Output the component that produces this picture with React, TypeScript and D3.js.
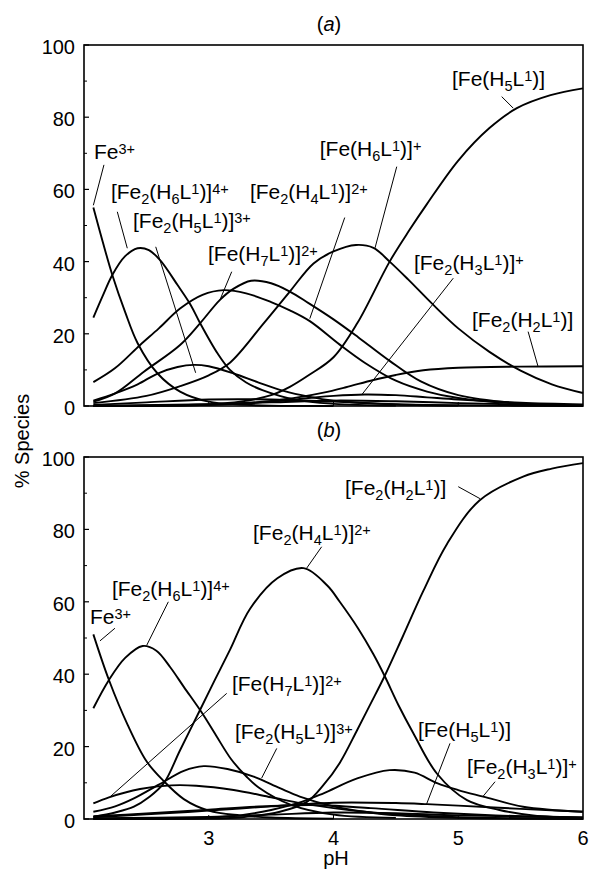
import React, { useEffect, useRef } from "react";
import * as d3 from "d3";

const W = 592;
const H = 871;
const FONT = "'Liberation Sans', Arial, Helvetica, sans-serif";

const pHDomain = [2, 6];
const xTickLabels = [3, 4, 5, 6];
const yTickLabels = [0, 20, 40, 60, 80, 100];
const yMinorTicks = [10, 30, 50, 70, 90];

// ---- panel (a): [pH, % species] ----
const aFe3 = [[2.075, 55], [2.15, 45.5], [2.227, 36.3], [2.33, 26], [2.43, 17.4], [2.59, 9], [2.77, 4], [3.0, 1.2], [3.25, 0.4], [3.5, 0.1], [4, 0]];
const aFe2H6 = [[2.075, 24.5], [2.15, 30.5], [2.227, 36.3], [2.33, 41.5], [2.43, 43.7], [2.52, 43.2], [2.61, 40.4], [2.75, 33.5], [2.855, 28], [2.93, 23], [3.07, 14.6], [3.17, 10], [3.3, 6.5], [3.43, 4.4], [3.7, 1.7], [4, 0.6], [4.5, 0.1]];
const aFe2H5 = [[2.075, 1.5], [2.25, 3.5], [2.43, 6], [2.59, 9], [2.75, 10.8], [2.88, 11.4], [3.0, 11], [3.2, 9], [3.4, 6.5], [3.6, 4.2], [3.8, 2.6], [4.0, 1.5], [4.5, 0.4], [5, 0.1]];
const aFeH7 = [[2.075, 1.2], [2.25, 3.5], [2.48, 9.5], [2.77, 16.9], [2.93, 22.9], [3.09, 29.4], [3.2, 32.5], [3.34, 34.7], [3.5, 34], [3.65, 31.7], [3.8, 28.5], [4.0, 24], [4.2, 19], [4.45, 12.5], [4.7, 6.8], [5.0, 3], [5.5, 0.7], [6, 0.2]];
const aFe2H4 = [[2.075, 6.6], [2.25, 10.5], [2.45, 16.9], [2.6, 21.5], [2.77, 27], [2.95, 30.8], [3.12, 32.1], [3.3, 31.2], [3.5, 28.8], [3.65, 26.5], [3.81, 23.5], [4.05, 17], [4.25, 12], [4.5, 7], [4.75, 4], [5, 2.2], [5.5, 0.6], [6, 0.1]];
const aFeH6 = [[2.075, 0.8], [2.5, 2.8], [2.77, 5.5], [3.0, 8.5], [3.17, 12], [3.44, 22.9], [3.65, 31.7], [3.84, 39.5], [4.0, 42.8], [4.18, 44.6], [4.32, 43.8], [4.45, 40], [4.6, 35], [4.8, 28], [5.0, 21.5], [5.25, 15], [5.5, 9.8], [5.75, 6], [6, 3.6]];
const aFeH5 = [[2.075, 0], [2.5, 0.1], [3.0, 0.5], [3.25, 1.2], [3.5, 3], [3.65, 5.3], [3.8, 8.5], [4.0, 13.5], [4.19, 22.9], [4.45, 40], [4.61, 48.8], [4.75, 56], [5.0, 68], [5.25, 77], [5.47, 82.5], [5.74, 86.1], [6, 88]];
const aFe2H3 = [[2.075, 0], [3.0, 0.3], [3.5, 1.2], [3.8, 2.2], [4.0, 2.8], [4.25, 3.2], [4.5, 3], [4.75, 2.4], [5, 1.8], [5.5, 0.9], [6, 0.4]];
const aFe2H2 = [[2.075, 0], [3.0, 0.3], [3.5, 1.4], [3.75, 2.6], [3.92, 3.7], [4.1, 5.2], [4.32, 7.2], [4.5, 8.6], [4.72, 9.9], [5.0, 10.6], [5.5, 10.9], [6, 11]];
const aMinor1 = [[2.075, 0.3], [2.5, 1], [3, 1.8], [3.5, 1.8], [4, 1.2], [4.5, 0.5], [5, 0.2], [6, 0]];
const aMinor2 = [[2.075, 0.1], [3, 0.5], [3.5, 1], [4, 1.5], [4.5, 1.3], [5, 0.8], [5.5, 0.4], [6, 0.2]];

// ---- panel (b) ----
const bFe3 = [[2.075, 51], [2.2, 38.4], [2.35, 26], [2.5, 16], [2.63, 10.8], [2.8, 5.5], [3.0, 2.3], [3.25, 1], [3.5, 0.4], [4, 0.1]];
const bFe2H6 = [[2.075, 30.6], [2.2, 38.4], [2.33, 44.5], [2.47, 47.8], [2.58, 46.5], [2.69, 42], [2.8, 36.5], [2.94, 29.6], [3.06, 23], [3.18, 16.5], [3.3, 11.8], [3.4, 8.7], [3.66, 3.9], [4, 1.2], [4.5, 0.3]];
const bFe2H4 = [[2.075, 0.6], [2.25, 1.8], [2.4, 3.4], [2.52, 6], [2.64, 9.9], [2.77, 19], [2.93, 30.1], [3.05, 38.5], [3.17, 46.7], [3.33, 58], [3.55, 66.5], [3.76, 69.3], [3.95, 64.5], [4.05, 60], [4.2, 52.5], [4.32, 45.5], [4.41, 39.5], [4.52, 31.5], [4.64, 23.7], [4.83, 12.5], [5.07, 5.2], [5.33, 2.5], [5.6, 1], [6, 0.3]];
const bFe2H5 = [[2.075, 2], [2.25, 3.5], [2.4, 5.7], [2.6, 9.5], [2.8, 13.3], [2.96, 14.6], [3.15, 13.8], [3.36, 11.7], [3.57, 8.5], [3.73, 6.2], [4.0, 3.5], [4.25, 2], [4.5, 1], [5, 0.3], [6, 0]];
const bFeH7 = [[2.075, 4.3], [2.2, 6], [2.45, 8.3], [2.7, 9.3], [2.9, 9.2], [3.2, 8], [3.5, 6], [3.75, 4.3], [4.0, 3], [4.25, 2], [4.5, 1.3], [5, 0.5], [6, 0.1]];
const bFe2H3 = [[2.075, 0], [3.0, 0.4], [3.25, 1], [3.5, 2.5], [3.75, 4.8], [3.92, 7.1], [4.19, 11.2], [4.45, 13.5], [4.65, 12.8], [4.83, 9.9], [5.0, 8], [5.2, 6.2], [5.52, 3.4], [6, 2]];
const bFe2H2 = [[2.075, 0], [3.0, 0.1], [3.25, 0.4], [3.57, 2], [3.79, 4.8], [3.92, 9.4], [4.05, 15.5], [4.19, 24.6], [4.3, 32], [4.41, 39.5], [4.55, 50], [4.72, 63], [4.91, 76], [5.17, 88], [5.52, 94.6], [5.75, 96.8], [6, 98.3]];
const bFeH5 = [[2.075, 0.5], [2.5, 1.3], [3, 2.3], [3.5, 3.5], [4, 4.5], [4.5, 4.4], [4.75, 4.1], [5, 3.7], [5.5, 2.8], [6, 2]];
const bMinor1 = [[2.075, 0.8], [2.5, 1.5], [3, 2.6], [3.5, 3.6], [3.9, 3.8], [4.3, 3], [4.8, 1.8], [5.3, 1], [6, 0.4]];
const bMinor2 = [[2.075, 0.2], [3, 0.6], [3.5, 1.2], [4, 1.8], [4.5, 1.6], [5, 1], [6, 0.4]];

// labels: text, text start [pH, %], pointer from -> to
const labelsA = [
  { text: "Fe^{3+}", at: [2.08, 68.4], from: [2.16, 66.8], to: [2.075, 55.6] },
  { text: "[Fe_2(H_6L^1)]^{4+}", at: [2.216, 57.3], from: [2.267, 53.8], to: [2.347, 43.7] },
  { text: "[Fe_2(H_5L^1)]^{3+}", at: [2.393, 49.3], from: [2.575, 44.1], to: [2.895, 9.2] },
  { text: "[Fe(H_7L^1)]^{2+}", at: [2.994, 40.2], from: [3.184, 37.2], to: [3.09, 29.4] },
  { text: "[Fe_2(H_4L^1)]^{2+}", at: [3.33, 57.3], from: [4.09, 52.2], to: [3.81, 24.2] },
  { text: "[Fe(H_6L^1)]^+", at: [3.89, 69.3], from: [4.507, 66.3], to: [4.333, 43.8] },
  { text: "[Fe(H_5L^1)]", at: [4.95, 88.6], from: [5.348, 85.7], to: [5.441, 82.5] },
  { text: "[Fe_2(H_3L^1)]^+", at: [4.645, 37.7], from: [4.96, 35.4], to: [4.226, 3.1] },
  { text: "[Fe_2(H_2L^1)]", at: [5.11, 22], from: [5.56, 20.6], to: [5.64, 10.9] },
];

const labelsB = [
  { text: "Fe^{3+}", at: [2.048, 53.9], from: [2.248, 52.7], to: [2.128, 49.2] },
  { text: "[Fe_2(H_6L^1)]^{4+}", at: [2.224, 61.6], from: [2.676, 60], to: [2.503, 48] },
  { text: "[Fe_2(H_4L^1)]^{2+}", at: [3.355, 77.1], from: [3.905, 75.2], to: [3.785, 69.3] },
  { text: "[Fe_2(H_2L^1)]", at: [4.092, 89.5], from: [5.0, 91.8], to: [5.174, 88.5] },
  { text: "[Fe(H_7L^1)]^{2+}", at: [3.186, 35.4], from: [3.144, 34.7], to: [2.208, 6.1] },
  { text: "[Fe_2(H_5L^1)]^{3+}", at: [3.21, 22.1], from: [3.545, 19.5], to: [3.424, 11.3] },
  { text: "[Fe(H_5L^1)]", at: [4.677, 22.7], from: [4.934, 20.9], to: [4.747, 4.2] },
  { text: "[Fe_2(H_3L^1)]^+", at: [5.07, 12.4], from: [5.295, 10.3], to: [5.2, 6.3] },
];

const panels = [
  { title: "(a)", top: 45, bottom: 406, titleY: 31, showX: false, series: [aFe3, aFe2H6, aFe2H5, aFeH7, aFe2H4, aFeH6, aFeH5, aFe2H3, aFe2H2, aMinor1, aMinor2], labels: labelsA },
  { title: "(b)", top: 457, bottom: 819, titleY: 437, showX: true, series: [bFe3, bFe2H6, bFe2H4, bFe2H5, bFeH7, bFe2H3, bFe2H2, bFeH5, bMinor1, bMinor2], labels: labelsB },
];

function parseLabel(s: string) {
  const out: { t: string; k: string }[] = [];
  let buf = "";
  let i = 0;
  while (i < s.length) {
    const c = s[i];
    if (c === "_" || c === "^") {
      if (buf) out.push({ t: buf, k: "n" });
      buf = "";
      const k = c === "_" ? "sub" : "sup";
      i++;
      let t = "";
      if (s[i] === "{") {
        const j = s.indexOf("}", i);
        t = s.slice(i + 1, j);
        i = j + 1;
      } else {
        t = s[i];
        i++;
      }
      out.push({ t, k });
    } else {
      buf += c;
      i++;
    }
  }
  if (buf) out.push({ t: buf, k: "n" });
  return out;
}

const App = () => {
  const svgRef = useRef<SVGSVGElement>(null);

  useEffect(() => {
    const svg = d3.select(svgRef.current);
    svg.selectAll("*").remove();

    const x = d3.scaleLinear().domain(pHDomain).range([84, 583]);
    const shift: Record<string, number> = { n: 0, sub: 5, sup: -5 };

    panels.forEach((p) => {
      const y = d3.scaleLinear().domain([0, 100]).range([p.bottom, p.top]);
      const g = svg.append("g");

      // frame
      g.append("rect")
        .attr("x", x(2)).attr("y", y(100))
        .attr("width", x(6) - x(2)).attr("height", y(0) - y(100))
        .attr("fill", "none").attr("stroke", "#000").attr("stroke-width", 1.6);

      // y ticks
      yTickLabels.forEach((v) => {
        g.append("line").attr("x1", x(2)).attr("x2", x(2) + 5)
          .attr("y1", y(v)).attr("y2", y(v)).attr("stroke", "#000").attr("stroke-width", 1.2);
        g.append("text").attr("x", 75).attr("y", y(v) + 9)
          .attr("text-anchor", "end").attr("font-size", 20).attr("font-family", FONT)
          .text(v);
      });
      yMinorTicks.forEach((v) => {
        g.append("line").attr("x1", x(2)).attr("x2", x(2) + 3)
          .attr("y1", y(v)).attr("y2", y(v)).attr("stroke", "#000").attr("stroke-width", 1);
      });

      // x ticks
      [3, 4, 5].forEach((v) => {
        g.append("line").attr("x1", x(v)).attr("x2", x(v))
          .attr("y1", y(0)).attr("y2", y(0) - 4).attr("stroke", "#000").attr("stroke-width", 1);
      });
      if (p.showX) {
        xTickLabels.forEach((v) => {
          g.append("text").attr("x", x(v)).attr("y", y(0) + 26)
            .attr("text-anchor", "middle").attr("font-size", 20).attr("font-family", FONT)
            .text(v);
        });
      }

      // title
      g.append("text").attr("x", 329).attr("y", p.titleY)
        .attr("text-anchor", "middle").attr("font-size", 20).attr("font-family", FONT)
        .selectAll("tspan").data(["(", "a", ")"]).enter().append("tspan")
        .attr("font-style", (d, i) => (i === 1 ? "italic" : "normal"))
        .text((d, i) => (i === 1 ? p.title[1] : d));

      // curves
      const line = d3.line<number[]>()
        .x((d) => x(d[0]))
        .y((d) => y(Math.max(0, d[1])))
        .curve(d3.curveCatmullRom.alpha(0.5));

      g.selectAll("path.curve").data(p.series).enter().append("path")
        .attr("class", "curve")
        .attr("d", (d) => line(d))
        .attr("fill", "none").attr("stroke", "#000").attr("stroke-width", 1.9);

      // labels with pointer lines
      p.labels.forEach((l) => {
        g.append("line")
          .attr("x1", x(l.from[0])).attr("y1", y(l.from[1]))
          .attr("x2", x(l.to[0])).attr("y2", y(l.to[1]))
          .attr("stroke", "#000").attr("stroke-width", 1);
        const t = g.append("text").attr("x", x(l.at[0])).attr("y", y(l.at[1]))
          .attr("font-family", FONT).attr("font-size", 21);
        let cur = 0;
        parseLabel(l.text).forEach((part) => {
          t.append("tspan")
            .attr("dy", shift[part.k] - cur)
            .attr("font-size", part.k === "n" ? 21 : 14.5)
            .text(part.t);
          cur = shift[part.k];
        });
      });
    });

    // axis titles
    svg.append("text").attr("transform", "translate(29,441) rotate(-90)")
      .attr("text-anchor", "middle").attr("font-size", 20).attr("font-family", FONT)
      .text("% Species");
    svg.append("text").attr("x", 336).attr("y", 865)
      .attr("text-anchor", "middle").attr("font-size", 20).attr("font-family", FONT)
      .text("pH");
  }, []);

  return (
    <svg
      ref={svgRef}
      width={W}
      height={H}
      style={{ position: "absolute", left: 0, top: 0, background: "#fff" }}
    ></svg>
  );
};

export default App;
